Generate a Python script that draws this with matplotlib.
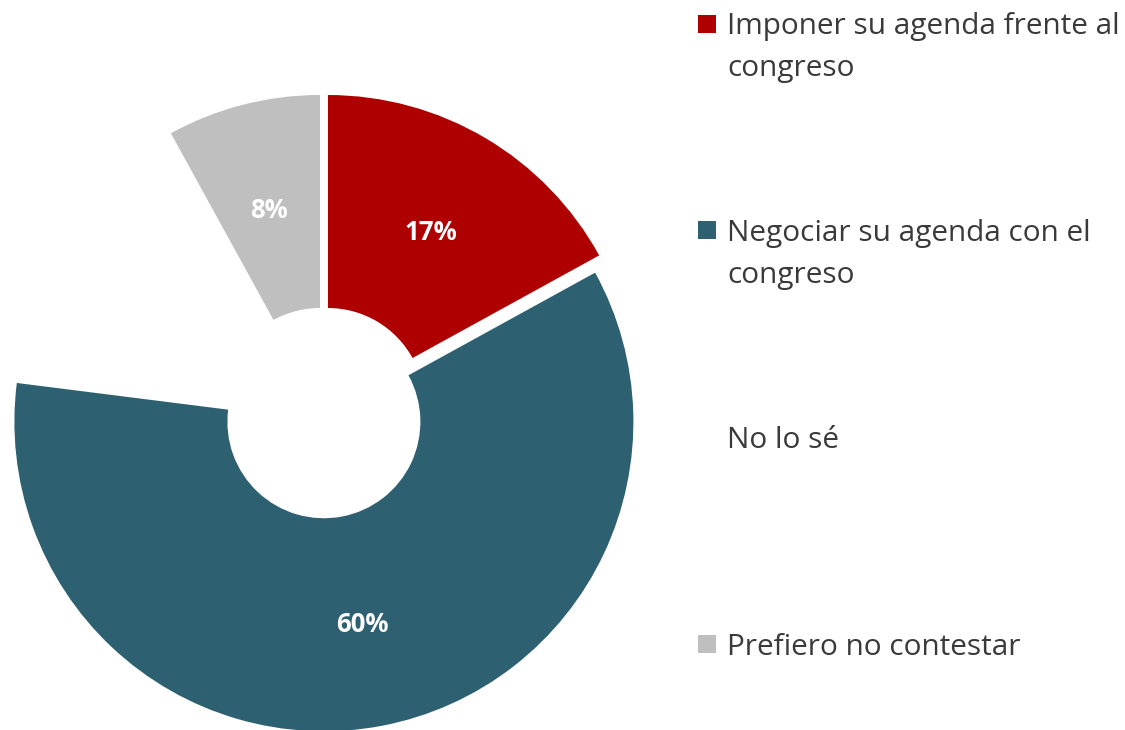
import matplotlib
matplotlib.use("Agg")
import matplotlib.pyplot as plt
from matplotlib.patches import Rectangle

# Survey answers and their shares (percent)
categories = [
    "Imponer su agenda frente al\ncongreso",
    "Negociar su agenda con el\ncongreso",
    "No lo sé",
    "Prefiero no contestar",
]
shares = [17, 60, 15, 8]
colors = ["#AE0000", "#2D6070", "#FFFFFF", "#BFBFBF"]
label_visible = [True, True, False, True]

W, H = 1125, 730
fig = plt.figure(figsize=(W / 100, H / 100), dpi=100)
ax = fig.add_axes([0, 0, 1, 1])

# Doughnut in pixel units: centre, outer radius, ring width, per-slice explode
center = (322.4, H - 413.9)
radius = 309.5
ring = 213
explode = [10.9, 8.0, 0.0, 9.7]

wedges, texts, autotexts = ax.pie(
    shares,
    colors=colors,
    explode=explode,
    center=center,
    radius=radius,
    startangle=90,
    counterclock=False,
    wedgeprops=dict(width=ring, linewidth=0),
    autopct=lambda p: f"{p:.0f}%",
    pctdistance=0.656,
    textprops=dict(color="white", fontsize=18.5, fontweight="bold",
                   family="Open Sans"),
)
for t, show in zip(autotexts, label_visible):
    t.set_visible(show)
    t.set_va("center_baseline")

ax.set_xlim(0, W)
ax.set_ylim(0, H)
ax.set_aspect("equal")
ax.axis("off")

# Legend on the right, one block per answer
text_x = 727
box_x, box_size = 698, 18
first_baseline = 34.3
step = 206.9
line_gap = 42
cap_h = 21.5
for i, (name, col) in enumerate(zip(categories, colors)):
    base = first_baseline + i * step
    ax.add_patch(Rectangle((box_x, H - (base - cap_h / 2) - box_size / 2),
                           box_size, box_size, facecolor=col, edgecolor="none"))
    for j, line in enumerate(name.split("\n")):
        ax.text(text_x, H - (base + j * line_gap), line, ha="left",
                va="baseline", fontsize=21.4, color="#3A3A3A",
                family="Open Sans")

fig.savefig("out.png", dpi=100, facecolor="white")
